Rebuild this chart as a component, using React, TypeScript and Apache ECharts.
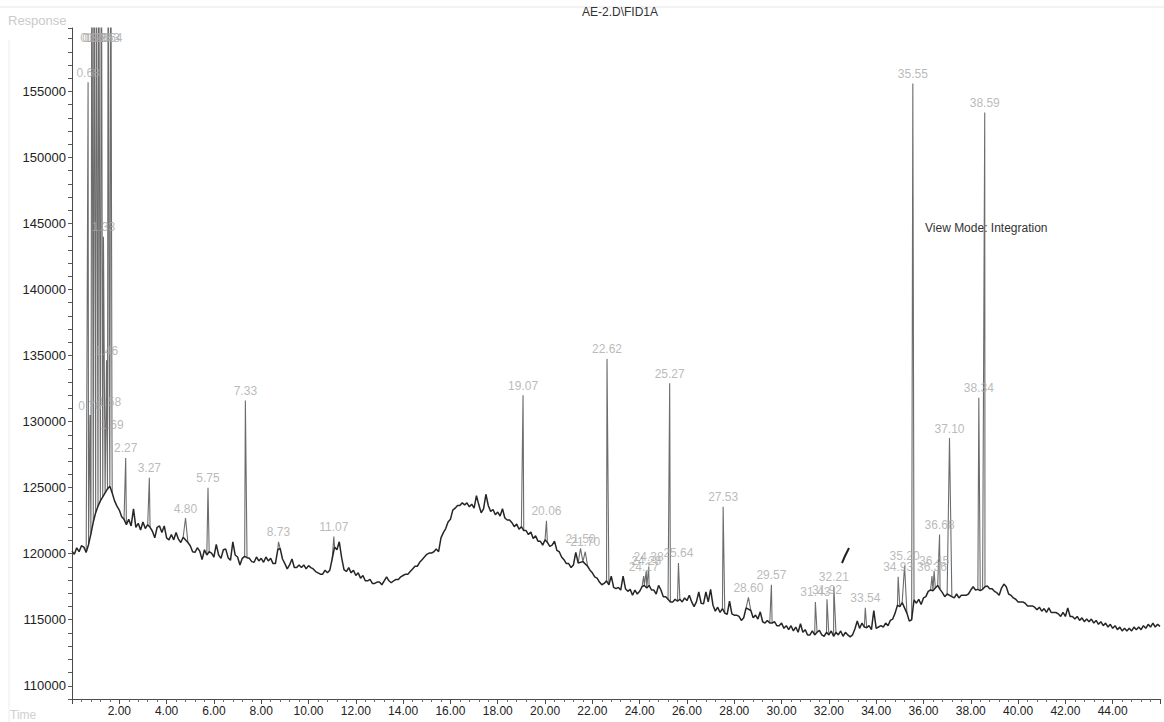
import { useEffect, useRef } from "react";
import * as echarts from "echarts";

// Detector trace sampled every 0.1 min, starting at 0.00 min (one row per minute).
const SAMPLE_STEP = 0.1;
const baselineResponse: number[] = [
  120200, 119950, 120450, 120150, 120600, 120500, 120100, 120700, 121500, 122400,
  123100, 123600, 124000, 124300, 124600, 124900, 125100, 124600, 124000, 123600,
  123300, 122800, 122600, 122200, 122600, 122100, 123400, 122000, 122300, 121800,
  122400, 121900, 122200, 122000, 121700, 121200, 122000, 122100, 121600, 122100,
  121200, 121050, 121450, 121050, 121600, 121100, 120850, 121250, 121000, 120850,
  120600, 120150, 120100, 120450, 120200, 119550, 120300, 119900, 120150, 120050,
  119750, 120700, 119900, 119650, 120300, 120350, 119700, 119500, 120900, 119900,
  119750, 119150, 119650, 119800, 119700, 119650, 119400, 119350, 119750, 119450,
  119650, 119350, 119750, 119450, 119650, 119250, 119250, 120300, 120400, 119600,
  119250, 118850, 119150, 119600, 118950, 118950, 119150, 118950, 119150, 118850,
  119100, 118950, 118850, 118650, 118550, 118450, 118450, 118750, 118550, 118750,
  119600, 120500, 120300, 120900, 119700, 118800, 118650, 118950, 118550, 118750,
  118350, 118550, 118150, 118350, 117950, 117950, 118050, 117750, 117750, 117850,
  117850, 117650, 117950, 118250, 117950, 117800, 117950, 118050, 118050, 118250,
  118350, 118450, 118450, 118650, 118850, 119050, 119050, 119350, 119550, 119750,
  119950, 120050, 120050, 120150, 120350, 120150, 121200, 121600, 121900, 122400,
  122600, 123300, 123450, 123650, 123650, 123850, 123700, 123850, 123550, 123750,
  123450, 124400, 123700, 123100, 123400, 124500, 123650, 123200, 123350, 122950,
  123150, 122850, 123400, 122700, 122550, 122550, 122350, 122050, 122250, 121850,
  122050, 121750, 121750, 121450, 121650, 121150, 121350, 120950, 120950, 120650,
  121050, 120850, 120550, 120650, 120950, 120250, 120150, 119750, 119550, 119250,
  119250, 118950, 119150, 120100, 119300, 119200, 119400, 119200, 119050, 118750,
  118550, 118250, 118150, 117850, 117650, 117750, 117950, 117650, 118300, 117450,
  117350, 117450, 117250, 118300, 117350, 117150, 117300, 116850, 117250, 116950,
  117150, 117500, 117600, 117400, 117600, 117250, 117250, 116950, 117600, 117250,
  116750, 116750, 116550, 116350, 116350, 116550, 116400, 116550, 116350, 116650,
  116450, 116850, 116350, 116000, 116350, 117100, 116250, 116200, 117100, 116350,
  117300, 116100, 115650, 115950, 115550, 115850, 115500, 115400, 116400, 115450,
  115350, 115350, 115250, 114950, 115150, 115900, 116700, 115700, 115150, 115350,
  115050, 115600, 114850, 114750, 114950, 114750, 114750, 114850, 114550, 114550,
  114750, 114350, 114550, 114250, 114550, 114150, 114450, 114050, 114700, 114050,
  114250, 113850, 113850, 114150, 113850, 114050, 114200, 113850, 113750, 114050,
  113850, 114150, 113750, 114050, 113850, 114150, 113750, 114050, 113850, 113700,
  113850, 114300, 114900, 114350, 114750, 114450, 114400, 114550, 114250, 115700,
  114350, 114450, 114550, 114450, 114750, 114550, 114950, 115050, 115500, 116100,
  116000, 116300, 116200, 115500, 114900, 115000, 116500, 116250, 116550, 116150,
  116650, 116750, 117150, 117250, 117200, 117400, 117600, 117300, 117050, 116750,
  116950, 116800, 116750, 116650, 116950, 116650, 116850, 116850, 116850, 116950,
  117250, 117500, 117250, 117300, 117200, 117300, 117500, 117550, 117350, 117350,
  117150, 117050, 116850, 117400, 117700, 117500, 116950, 116850, 116650, 116550,
  116350, 116350, 116350, 116250, 116050, 116050, 116050, 115950, 115750, 115950,
  115650, 115850, 115550, 115900, 115550, 115550, 115550, 115450, 115250, 115550,
  115250, 115900, 115250, 115250, 115050, 115250, 114950, 115150, 114850, 115050,
  114850, 115050, 114750, 114950, 114650, 114850, 114550, 114750, 114450, 114650,
  114350, 114550, 114250, 114450, 114150, 114350, 114150, 114350, 114150, 114450,
  114250, 114450, 114250, 114550, 114350, 114650, 114450, 114750, 114450, 114650,
  114500,
];

// Integrated peaks: retention time (min) and apex response.
const peakTimes: number[] = [
  0.68, 0.76, 0.84, 0.93, 1.03, 1.13, 1.24, 1.33, 1.46, 1.53, 1.58, 1.64, 1.69,
  2.27, 3.27, 4.8, 5.75, 7.33, 8.73, 11.07,
  19.07, 20.06, 21.5, 21.7, 22.62, 24.17, 24.28, 24.38, 25.27, 25.64,
  27.53, 28.6, 29.57, 31.43, 31.92, 32.21, 33.54,
  34.93, 35.2, 35.55, 36.36, 36.45, 36.68, 37.1, 38.34, 38.59,
];
const peakResponses: number[] = [
  155700, 130500, 172000, 172000, 172000, 172000, 172000, 144000, 134650, 172000, 130800, 172000, 129000,
  127250, 125750, 122700, 125000, 131600, 120900, 121300,
  132000, 122500, 120400, 120150, 134750, 118300, 118700, 119000, 132900, 119300,
  123550, 116700, 117650, 116350, 116550, 117500, 115900,
  118250, 119100, 155600, 118300, 118700, 121450, 128750, 131800, 153400,
];

const TIME_MIN = 0;
const TIME_MAX = 46;
const TIME_TICK = 2;
const RESPONSE_MIN = 109000;
const RESPONSE_MAX = 159800;
const RESPONSE_TICK = 1000;
const RESPONSE_LABEL_STEP = 5000;
// Labels of peaks that run off the top are parked just under the frame.
const LABEL_CEILING = 158300;

type Pt = [number, number];

function sampleTime(i: number) {
  return Math.round(i * SAMPLE_STEP * 100) / 100;
}

// Baseline samples, minus those replaced by a peak apex at the same time.
function buildBaseline(): Pt[] {
  const pts: Pt[] = [];
  baselineResponse.forEach((v, i) => {
    const t = sampleTime(i);
    if (peakTimes.some((p) => Math.abs(p - t) < 1e-6)) return;
    pts.push([t, v]);
  });
  return pts;
}

// Each peak drawn from the trace point before it, through its apex, to the point after.
function buildSpikes(baseline: Pt[]): (Pt | null)[] {
  const all: any[] = baseline.map((p) => ({ t: p[0], v: p[1], peak: false }));
  peakTimes.forEach((t, i) => all.push({ t, v: peakResponses[i], peak: true }));
  all.sort((a, b) => a.t - b.t);
  const out: (Pt | null)[] = [];
  all.forEach((p, k) => {
    if (!p.peak) return;
    const prev = all[Math.max(0, k - 1)];
    const next = all[Math.min(all.length - 1, k + 1)];
    out.push([prev.t, prev.v], [p.t, p.v], [next.t, next.v], null);
  });
  return out;
}

const FONT = "'Liberation Sans', Arial, Helvetica, sans-serif";

export default function App() {
  const ref = useRef<HTMLDivElement>(null);

  useEffect(() => {
    if (!ref.current) return;
    const chart = echarts.init(ref.current, undefined, { renderer: "svg" });
    const baseline = buildBaseline();
    const spikes = buildSpikes(baseline);
    const labelPoints = peakTimes.map((t, i) => [
      t,
      Math.min(peakResponses[i], LABEL_CEILING),
      t.toFixed(2),
    ]);

    chart.setOption({
      animation: false,
      backgroundColor: "#ffffff",
      grid: { left: 72, right: 4, top: 28, height: 671, containLabel: false },
      xAxis: {
        type: "value",
        min: TIME_MIN,
        max: TIME_MAX,
        interval: TIME_TICK,
        axisLine: { show: true, lineStyle: { color: "#4a4a4a", width: 1 } },
        axisTick: { show: true, length: 5, lineStyle: { color: "#4a4a4a" } },
        minorTick: { show: true, splitNumber: 5, length: 3, lineStyle: { color: "#6a6a6a" } },
        splitLine: { show: false },
        axisLabel: {
          color: "#222",
          fontSize: 12,
          fontFamily: FONT,
          margin: 6,
          formatter: (v: number) => (v <= TIME_MIN || v >= TIME_MAX ? "" : v.toFixed(2)),
        },
      },
      yAxis: {
        type: "value",
        min: RESPONSE_MIN,
        max: RESPONSE_MAX,
        interval: RESPONSE_TICK,
        axisLine: { show: true, lineStyle: { color: "#4a4a4a", width: 1 } },
        axisTick: { show: true, length: 4, lineStyle: { color: "#5a5a5a" } },
        splitLine: { show: false },
        axisLabel: {
          color: "#222",
          fontSize: 13,
          fontFamily: FONT,
          margin: 6,
          formatter: (v: number) => (v % RESPONSE_LABEL_STEP === 0 ? String(v) : ""),
        },
      },
      series: [
        {
          type: "line",
          data: spikes,
          showSymbol: false,
          symbol: "none",
          connectNulls: false,
          clip: true,
          lineStyle: { color: "#6c6c6c", width: 1.1 },
          z: 1,
        },
        {
          type: "line",
          data: baseline,
          showSymbol: false,
          symbol: "none",
          clip: true,
          lineStyle: { color: "#262626", width: 1.5 },
          z: 2,
        },
        {
          type: "scatter",
          data: labelPoints,
          symbolSize: 1,
          itemStyle: { color: "rgba(0,0,0,0)" },
          silent: true,
          z: 3,
          label: {
            show: true,
            position: "top",
            distance: 3,
            color: "#a8a8a8",
            fontSize: 12,
            fontFamily: FONT,
            formatter: (p: any) => p.data[2],
          },
        },
      ],
      graphic: [
        { type: "line", shape: { x1: 0, y1: 7, x2: 1164, y2: 7 }, style: { stroke: "#e6e6e6", lineWidth: 1 } },
        { type: "line", shape: { x1: 9, y1: 40, x2: 9, y2: 722 }, style: { stroke: "#ececec", lineWidth: 1 } },
        {
          type: "text",
          x: 620,
          y: 6,
          style: { text: "AE-2.D\\FID1A", fill: "#333", font: `12px ${FONT}`, textAlign: "center" },
        },
        {
          type: "text",
          x: 8,
          y: 14,
          style: { text: "Response", fill: "#cacaca", font: `13px ${FONT}` },
        },
        {
          type: "text",
          x: 10,
          y: 709,
          style: { text: "Time", fill: "#cfcfcf", font: `12px ${FONT}` },
        },
        {
          type: "text",
          x: 925,
          y: 222,
          style: { text: "View Mode: Integration", fill: "#333", font: `12px ${FONT}` },
        },
        {
          type: "polyline",
          shape: { points: [[842, 563], [845, 556], [849, 548]] },
          style: { stroke: "#222", lineWidth: 2, fill: "none" },
        },
      ],
    });

    return () => chart.dispose();
  }, []);

  return (
    <div
      ref={ref}
      style={{ position: "absolute", left: 0, top: 0, width: 1164, height: 722 }}
    />
  );
}
